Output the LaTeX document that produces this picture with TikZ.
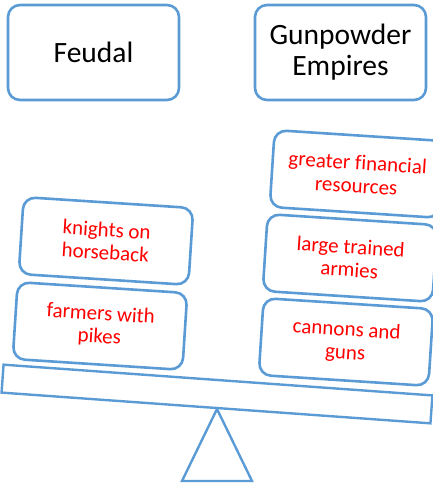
\documentclass[tikz,border=0pt]{standalone}
\usepackage{fontspec}
\setmainfont{Carlito}[Ligatures=NoCommon]
\definecolor{boxblue}{HTML}{5B9BD5}
\definecolor{txtred}{HTML}{FF0000}
\begin{document}
\begin{tikzpicture}[x=1pt,y=-1pt,
  headbox/.style={draw=boxblue, line width=2.6pt, rounded corners=12pt, fill=white,
    minimum width=171pt, minimum height=95pt, align=center, font=\fontsize{29.5}{31}\selectfont, text=black},
  itembox/.style={draw=boxblue, line width=2.6pt, rounded corners=12pt, fill=white,
    minimum width=170pt, minimum height=77pt, align=center, font=\fontsize{21}{23}\selectfont, text=txtred, rotate=-3.7},
  plankbox/.style={draw=boxblue, line width=2.4pt, fill=white, minimum width=430pt, minimum height=28pt, rotate=-4.1, inner sep=0pt},
  fulcrum/.style={draw=boxblue, line width=2.4pt, line join=miter}
]
\useasboundingbox (0,0) rectangle (433,487);
\node[headbox] (feudal) at (93.5,52.5) {Feudal};
\node[headbox] (gun) at (340.5,52.5) {Gunpowder\\Empires};

\node[itembox] (knights) at (106,241) {knights on\\horseback};
\node[itembox] (farmers) at (100,326) {farmers with\\pikes};

\node[itembox] (greater) at (357,174) {greater financial\\resources};
\node[itembox] (large) at (350,258) {large trained\\armies};
\node[itembox] (cannons) at (346,342) {cannons and\\guns};

\node[plankbox] (plank) at (217,394) {};

\coordinate (apex) at (217,409);
\coordinate (bl) at (182,481);
\coordinate (br) at (252,481);
\draw[fulcrum] (apex) -- (bl) -- (br) -- cycle;
\end{tikzpicture}
\end{document}
